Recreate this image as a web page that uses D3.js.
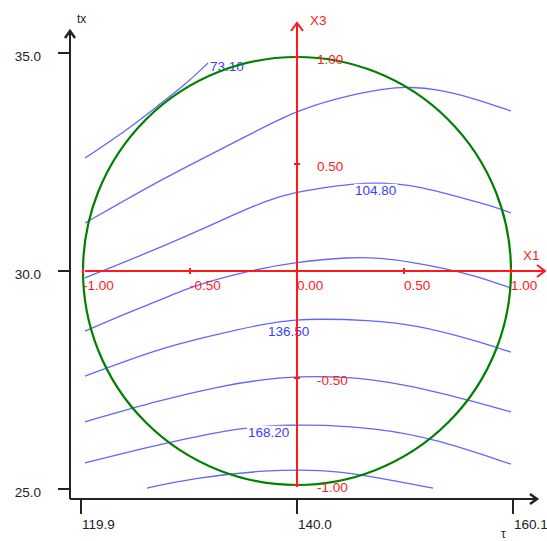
<!DOCTYPE html>
<html>
<head>
<meta charset="utf-8">
<script src="https://cdn.jsdelivr.net/npm/d3@7"></script>
<style>
  body { margin: 0; background: #fff; }
  text { font-family: "Liberation Sans", Arial, sans-serif; font-size: 13.5px; }
</style>
</head>
<body>
<div id="chart_area"></div>
<script>
// Tick values of the outer (natural) axes and the coded red axes.
var tauTicks = [119.9, 140.0, 160.1];
var txTicks = [25.0, 30.0, 35.0];
var codedTicks = [-1.0, -0.5, 0.0, 0.5, 1.0];

// Contour levels, only every other one carries a label.
var levels = [73.10, 88.95, 104.80, 120.65, 136.50, 152.35, 168.20, 184.05];
var levelLabels = ["73.10", "", "104.80", "", "136.50", "", "168.20", ""];

// Contour lines, as [tau, tx].
var line1 = [[120.27, 32.59], [124.18, 33.23], [127.25, 33.83], [129.76, 34.31], [131.72, 34.77]];
var line2 = [[120.27, 31.10], [124.18, 31.65], [127.25, 32.07], [130.04, 32.43], [134.97, 33.05],
             [139.63, 33.65], [143.72, 33.97], [148.38, 34.20], [150.52, 34.22],
             [153.03, 34.17], [156.10, 33.99], [159.91, 33.67]];
var line3 = [[120.27, 29.84], [127.25, 30.53], [133.49, 31.22], [137.21, 31.63], [140.00, 31.81],
             [142.14, 31.90], [145.21, 32.00], [147.26, 32.02], [149.31, 32.00], [151.45, 31.93],
             [155.45, 31.67], [157.96, 31.51], [159.91, 31.33]];
var line4 = [[120.27, 28.62], [124.18, 29.04], [127.25, 29.33], [130.32, 29.66], [134.97, 29.98],
             [140.00, 30.21], [144.93, 30.32], [147.72, 30.30], [150.52, 30.21], [153.96, 30.05],
             [156.56, 29.89], [159.91, 29.61]];
var line5 = [[120.27, 27.59], [127.25, 28.23], [131.90, 28.51], [137.21, 28.81], [140.00, 28.88],
             [141.86, 28.90], [146.51, 28.88], [151.17, 28.76], [156.38, 28.42], [159.91, 28.14]];
var line6 = [[120.27, 26.54], [127.25, 27.04], [133.49, 27.39], [136.56, 27.50], [140.00, 27.59],
             [144.93, 27.57], [148.66, 27.45], [153.31, 27.22], [159.91, 26.77]];
var line7 = [[120.27, 25.60], [128.18, 26.08], [134.97, 26.42], [139.35, 26.47], [142.42, 26.47],
             [147.07, 26.40], [152.66, 26.17], [159.91, 25.57]];
var line8 = [[126.04, 25.02], [130.32, 25.25], [137.21, 25.44], [142.42, 25.44], [145.86, 25.34],
             [152.66, 25.02]];
var contourLines = [line1, line2, line3, line4, line5, line6, line7, line8];

// Where each label sits on its line, as [tau, tx] of the label's top-left.
var labelAt = [[131.90, 34.81], null, [145.40, 31.97], null, [137.30, 28.74], null, [135.44, 26.42], null];

var frame_width = 547;
var frame_height = 541;

var frame = d3.select("#chart_area").append("svg")
  .attr("width", frame_width)
  .attr("height", frame_height);

// Natural-unit scales.
var x = d3.scaleLinear().domain([119.9, 160.1]).range([81, 513]);
var y = d3.scaleLinear().domain([25, 35]).range([489, 53]);
// Coded-unit scales for the red X1 / X3 axes and the circle.
var cx = d3.scaleLinear().domain([-1, 1]).range([83, 511]);
var cy = d3.scaleLinear().domain([-1, 1]).range([485, 57]);

var axisLeft = 70, axisBottom = 499;
var ink = "#222";

// Contours.
var line = d3.line().x(function(d) { return x(d[0]); }).y(function(d) { return y(d[1]); }).curve(d3.curveBasis);
var contours = frame.append("g");
contours.selectAll("path").data(contourLines).enter().append("path")
  .attr("d", line)
  .attr("fill", "none")
  .attr("stroke", "#6464ff")
  .attr("stroke-width", 1.3);

// Contour labels with a white patch that breaks the line.
var labels = frame.append("g");
levels.forEach(function(lv, i) {
  if (!labelAt[i]) return;
  var g = labels.append("g");
  var t = g.append("text")
    .attr("x", x(labelAt[i][0]))
    .attr("y", y(labelAt[i][1]))
    .attr("dy", "0.72em")
    .attr("fill", "#3c3cff")
    .text(levelLabels[i]);
  var bb = t.node().getBBox();
  g.insert("rect", "text")
    .attr("x", bb.x - 1).attr("y", bb.y + 1)
    .attr("width", bb.width + 2).attr("height", bb.height - 2)
    .attr("fill", "#fff");
});

// Experimental region circle.
frame.append("ellipse")
  .attr("cx", cx(0)).attr("cy", cy(0))
  .attr("rx", cx(1) - cx(0)).attr("ry", cy(-1) - cy(0))
  .attr("fill", "none")
  .attr("stroke", "#008000")
  .attr("stroke-width", 2.2);

// Red coded axes.
var red = "#ff1a1a";
var coded = frame.append("g").attr("stroke", red).attr("stroke-width", 2).attr("fill", "none");
coded.append("line").attr("x1", cx(-1) + 2).attr("x2", 545).attr("y1", cy(0)).attr("y2", cy(0));
coded.append("path").attr("d", "M537," + (cy(0) - 6) + "L545," + cy(0) + "L537," + (cy(0) + 6));
coded.append("line").attr("x1", cx(0)).attr("x2", cx(0)).attr("y1", cy(-1) + 2).attr("y2", 23);
coded.append("path").attr("d", "M" + (cx(0) - 6) + ",31L" + cx(0) + ",23L" + (cx(0) + 6) + ",31");
codedTicks.forEach(function(v) {
  coded.append("line").attr("x1", cx(v)).attr("x2", cx(v)).attr("y1", cy(0) - 3).attr("y2", cy(0) + 3);
  if (v !== 0) coded.append("line").attr("x1", cx(0) - 3).attr("x2", cx(0) + 3).attr("y1", cy(v)).attr("y2", cy(v));
});
var codedText = frame.append("g").attr("fill", red);
codedTicks.forEach(function(v) {
  codedText.append("text").attr("x", cx(v)).attr("y", cy(0) + 9).attr("dy", "0.72em").text(v.toFixed(2));
  if (v !== 0) codedText.append("text").attr("x", cx(0) + 20).attr("y", cy(v) - 3).attr("dy", "0.72em").text(v.toFixed(2));
});
codedText.append("text").attr("x", 523).attr("y", 260).text("X1");
codedText.append("text").attr("x", 310).attr("y", 25).text("X3");

// Black outer axes.
var outer = frame.append("g").attr("stroke", ink).attr("stroke-width", 2).attr("fill", "none");
outer.append("line").attr("x1", axisLeft).attr("x2", axisLeft).attr("y1", axisBottom).attr("y2", 31);
outer.append("path").attr("d", "M" + (axisLeft - 5) + ",38L" + axisLeft + ",31L" + (axisLeft + 5) + ",38").attr("stroke-width", 2.5);
outer.append("line").attr("x1", axisLeft).attr("x2", 537).attr("y1", axisBottom).attr("y2", axisBottom);
outer.append("path").attr("d", "M530," + (axisBottom - 5) + "L537," + axisBottom + "L530," + (axisBottom + 5)).attr("stroke-width", 2.5);
txTicks.forEach(function(v) {
  outer.append("line").attr("x1", axisLeft - 12).attr("x2", axisLeft).attr("y1", y(v)).attr("y2", y(v));
});
tauTicks.forEach(function(v) {
  outer.append("line").attr("x1", x(v)).attr("x2", x(v)).attr("y1", axisBottom).attr("y2", axisBottom + 15);
});

var outerText = frame.append("g").attr("fill", ink);
txTicks.forEach(function(v) {
  outerText.append("text").attr("x", 41).attr("y", y(v) - 2).attr("dy", "0.72em")
    .attr("text-anchor", "end").text(v.toFixed(1));
});
tauTicks.forEach(function(v) {
  outerText.append("text").attr("x", x(v) + 1).attr("y", axisBottom + 20).attr("dy", "0.72em").text(v.toFixed(1));
});
outerText.append("text").attr("x", 77).attr("y", 23).style("font-size", "12px").text("tx");
outerText.append("text").attr("x", 501).attr("y", 538).style("font-size", "12px").text("τ");
</script>
</body>
</html>
